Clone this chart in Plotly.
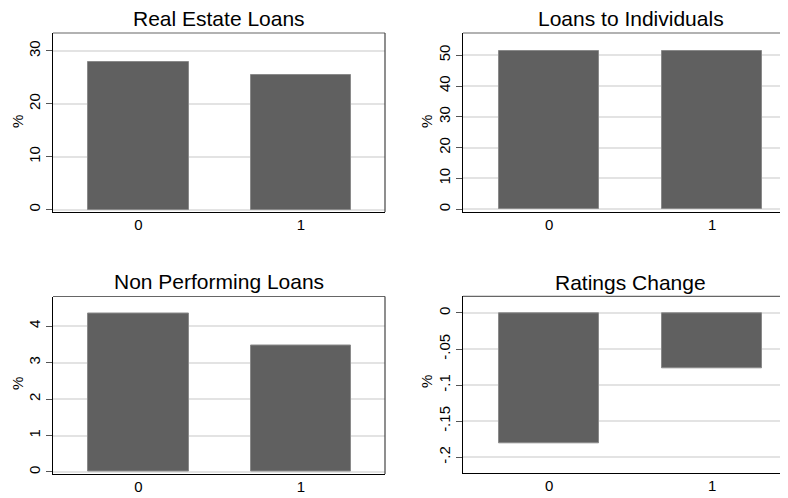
import plotly.graph_objects as go

# ---- data ----
categories = [0, 1]
real_estate_loans = [28.0, 25.5]
loans_to_individuals = [51.3, 51.2]
non_performing_loans = [4.35, 3.46]
ratings_change = [-0.180, -0.076]

titles = ["Real Estate Loans", "Loans to Individuals", "Non Performing Loans", "Ratings Change"]
series = [real_estate_loans, loans_to_individuals, non_performing_loans, ratings_change]
ytick_vals = [
    [0, 10, 20, 30],
    [0, 10, 20, 30, 40, 50],
    [0, 1, 2, 3, 4],
    [0, -0.05, -0.1, -0.15, -0.2],
]
ytick_text = [
    ["0", "10", "20", "30"],
    ["0", "10", "20", "30", "40", "50"],
    ["0", "1", "2", "3", "4"],
    ["0", "-.05", "-.1", "-.15", "-.2"],
]
y_title = "%"

# ---- layout (window pixels; the page has an 8px body margin) ----
OFF = 8
W, H = 788 - OFF, 498 - OFF
# (left, right, top, bottom) in window pixels
boxes = [(53, 385, 33, 212), (463, 788, 33, 212), (53, 385, 296.5, 474), (463, 788, 296.3, 473)]
xranges = [[-0.526, 1.517], [-0.528, 1.466], [-0.526, 1.517], [-0.528, 1.466]]
yranges = [[-0.47, 33.4], [-0.88, 57.2], [-0.055, 4.81], [-0.2218, 0.0231]]
bar_widths = [0.62, 0.61, 0.62, 0.61]
title_pos = [(219, 18.8), (630.5, 18.8), (219, 281.3), (630.5, 282)]
ytitle_pos = [(17, 122), (426, 122), (17, 384), (426, 382)]


def px(x):
    return (x - OFF) / W


def py(y):
    return 1 - (y - OFF) / H


FONT = "Liberation Sans, Arial, sans-serif"
BAR = "#606060"
GRID = "#e3e3e3"

fig = go.Figure()
layout = dict(
    width=W, height=H, margin=dict(l=0, r=0, t=0, b=0),
    paper_bgcolor="white", plot_bgcolor="white", showlegend=False,
    font=dict(family=FONT, color="black", size=15),
    annotations=[], shapes=[], bargap=0,
)

for i in range(4):
    l, r, t, b = boxes[i]
    xa = "x" if i == 0 else f"x{i+1}"
    ya = "y" if i == 0 else f"y{i+1}"
    fig.add_trace(go.Bar(
        x=categories, y=series[i], width=bar_widths[i],
        marker=dict(color=BAR, line=dict(color="#8a8a8a", width=1)),
        xaxis=xa, yaxis=ya, hoverinfo="x+y",
    ))
    xkey = "xaxis" if i == 0 else f"xaxis{i+1}"
    ykey = "yaxis" if i == 0 else f"yaxis{i+1}"
    layout[xkey] = dict(
        domain=[max(px(l), 0), min(px(r), 1)], anchor=ya, range=xranges[i],
        tickmode="array", tickvals=categories, ticktext=[str(c) for c in categories],
        showgrid=False, zeroline=False, ticks="", showline=True,
        linecolor="black", linewidth=1.2, tickfont=dict(size=15), fixedrange=True,
        ticklabelstandoff=-1,
    )
    layout[ykey] = dict(
        domain=[py(b), py(t)], anchor=xa, range=yranges[i],
        tickmode="array", tickvals=ytick_vals[i], ticktext=ytick_text[i],
        tickangle=-90, ticks="outside", ticklen=6, tickcolor="#555555", tickwidth=1,
        showgrid=True, gridcolor=GRID, gridwidth=2, zeroline=False,
        showline=True, linecolor="black", linewidth=1.2, tickfont=dict(size=15),
        fixedrange=True,
    )
    # plot-region outline (top and right)
    layout["shapes"].append(dict(type="line", xref="paper", yref="paper",
                                 x0=px(l), x1=min(px(r), 1), y0=py(t), y1=py(t),
                                 line=dict(color="#666666", width=1.2)))
    if r < 788:
        layout["shapes"].append(dict(type="line", xref="paper", yref="paper",
                                     x0=px(r), x1=px(r), y0=py(b), y1=py(t),
                                     line=dict(color="#444444", width=1.2)))
    tx, ty = title_pos[i]
    layout["annotations"].append(dict(
        text=titles[i], x=px(tx), y=py(ty), xref="paper", yref="paper",
        xanchor="center", yanchor="middle", showarrow=False,
        font=dict(size=21, family=FONT, color="black"),
    ))
    ax_, ay_ = ytitle_pos[i]
    layout["annotations"].append(dict(
        text=y_title, x=px(ax_), y=py(ay_), xref="paper", yref="paper",
        xanchor="center", yanchor="middle", showarrow=False, textangle=-90,
        font=dict(size=15, family=FONT, color="black"),
    ))

fig.update_layout(**layout)
fig.write_html("out.html")
